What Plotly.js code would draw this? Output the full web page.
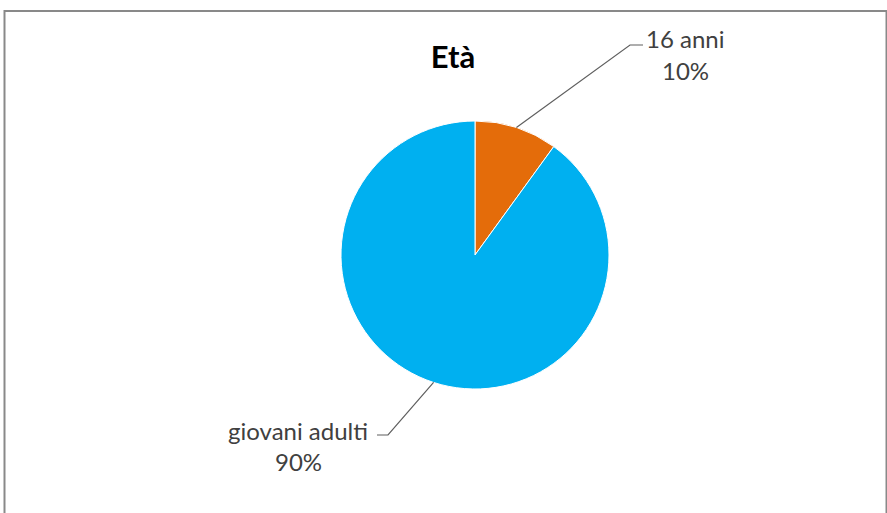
<!DOCTYPE html>
<html>
<head>
<meta charset="utf-8">
<script src="https://cdn.plot.ly/plotly-3.0.1.min.js"></script>
<style>html,body{margin:0;padding:0;background:#fff;}#chart{width:887px;height:513px;}</style>
</head>
<body>
<div id="chart"></div>
<script>
const labels = ['16 anni', 'giovani adulti'];
const values = [10, 90];
const colors = ['#E46C0A', '#00B0F0'];
const title = 'Età';

const W = 887, H = 513;
const cx = 475, cy = 255, R = 134;
// label layout (styling): elbow point, elbow end, text center
const labelStyle = [
  {elbow: [630, 45], end: [643, 45], tx: 685, ty1: 39, ty2: 71},
  {elbow: [388, 435], end: [377, 435], tx: 298, ty1: 430, ty2: 461}
];
const px = x => x / W;
const py = y => 1 - y / H;

const total = values.reduce((a, b) => a + b, 0);
const shapes = [];
const annotations = [];
let start = 0;
const lblFont = {family: 'Lato, sans-serif', size: 24, color: '#404040'};
values.forEach((v, i) => {
  const frac = v / total;
  const mid = (start + frac / 2) * 2 * Math.PI;
  start += frac;
  const ax = cx + R * Math.sin(mid), ay = cy - R * Math.cos(mid);
  const s = labelStyle[i];
  shapes.push({type: 'path', xref: 'paper', yref: 'paper',
    path: `M ${px(ax)} ${py(ay)} L ${px(s.elbow[0])} ${py(s.elbow[1])} L ${px(s.end[0])} ${py(s.end[1])}`,
    line: {color: '#5f5f5f', width: 1.2}});
  const pct = Math.round(frac * 100) + '%';
  annotations.push({xref: 'paper', yref: 'paper', x: px(s.tx), y: py(s.ty1), text: labels[i],
    showarrow: false, xanchor: 'center', yanchor: 'middle', font: lblFont});
  annotations.push({xref: 'paper', yref: 'paper', x: px(s.tx), y: py(s.ty2), text: pct,
    showarrow: false, xanchor: 'center', yanchor: 'middle', font: lblFont});
});

// outer chart border
shapes.push({type: 'rect', xref: 'paper', yref: 'paper', x0: px(4.5), x1: px(886.5), y0: py(520), y1: py(11),
  line: {color: '#898989', width: 2}, fillcolor: 'rgba(0,0,0,0)'});

const data = [{
  type: 'pie',
  labels: labels,
  values: values,
  sort: false,
  direction: 'clockwise',
  rotation: 0,
  marker: {colors: colors, line: {color: '#ffffff', width: 1}},
  textinfo: 'none',
  hoverinfo: 'label+percent',
  showlegend: false,
  domain: {x: [px(cx - R), px(cx + R)], y: [py(cy + R), py(cy - R)]}
}];

const layout = {
  width: W, height: H,
  margin: {l: 0, r: 0, t: 0, b: 0},
  paper_bgcolor: '#ffffff',
  title: {text: '<b>' + title + '</b>', x: px(453), y: py(57), xanchor: 'center', yanchor: 'middle',
    font: {family: 'Lato, sans-serif', size: 31, color: '#000000'}},
  shapes: shapes,
  annotations: annotations,
  showlegend: false
};

Plotly.newPlot('chart', data, layout, {displayModeBar: false, staticPlot: true});
</script>
</body>
</html>
